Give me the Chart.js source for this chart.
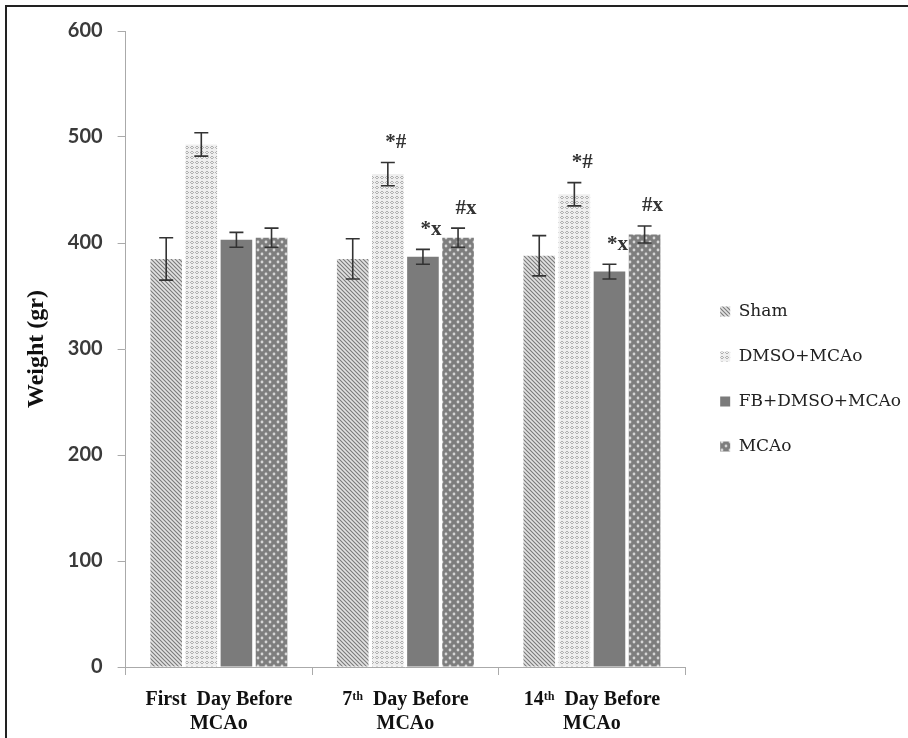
<!DOCTYPE html>
<html>
<head>
<meta charset="utf-8">
<script src="https://cdn.jsdelivr.net/npm/chart.js@4.4.0/dist/chart.umd.min.js"></script>
<style>
  body { margin: 0; background: #fff; }
  #wrap { position: relative; width: 908px; height: 738px; }
  #frame { position: absolute; left: 5px; top: 5px; right: -10px; bottom: -10px;
           border-left: 2px solid #222; border-top: 2px solid #222; pointer-events: none; }
</style>
</head>
<body>
<div id="wrap">
  <canvas id="weightChart" width="908" height="738"></canvas>
  <div id="frame"></div>
</div>
<script>
const days = [["First  Day Before", "MCAo"], ["7ᵗʰ  Day Before", "MCAo"], ["14ᵗʰ  Day Before", "MCAo"]];
const groups = ["Sham", "DMSO+MCAo", "FB+DMSO+MCAo", "MCAo"];

const shamWeight = [385, 385, 388];
const dmsoWeight = [493, 465, 446];
const fbWeight = [403, 387, 373];
const mcaoWeight = [405, 405, 408];

const shamErr = [20, 19, 19];
const dmsoErr = [11, 11, 11];
const fbErr = [7, 7, 7];
const mcaoErr = [9, 9, 8];

// significance marks above the bars
const shamMark = ["", "", ""];
const dmsoMark = ["", "*#", "*#"];
const fbMark = ["", "*x", "*x"];
const mcaoMark = ["", "#x", "#x"];

const yTicks = [0, 100, 200, 300, 400, 500, 600];

function makePattern(size, draw) {
    const c = document.createElement("canvas");
    c.width = size;
    c.height = size;
    const ctx = c.getContext("2d");
    draw(ctx, size);
    return ctx.createPattern(c, "repeat");
}

// diagonal hatch
const shamFill = makePattern(4, function (ctx, s) {
    ctx.fillStyle = "#e2e2e2";
    ctx.fillRect(0, 0, s, s);
    ctx.strokeStyle = "#7a7a7a";
    ctx.lineWidth = 1.1;
    ctx.beginPath();
    ctx.moveTo(-1, -1); ctx.lineTo(s + 1, s + 1);
    ctx.moveTo(-1, s - 1); ctx.lineTo(1, s + 1);
    ctx.moveTo(s - 1, -1); ctx.lineTo(s + 1, 1);
    ctx.stroke();
});

// light dotted
const dmsoFill = makePattern(5, function (ctx, s) {
    ctx.fillStyle = "#efefef";
    ctx.fillRect(0, 0, s, s);
    ctx.fillStyle = "#b0b0b0";
    ctx.fillRect(1, 1, 2, 1);
    ctx.fillRect(1, 3, 2, 1);
    ctx.fillRect(0, 2, 1, 1);
    ctx.fillRect(3, 2, 1, 1);
});

const fbFill = "#7b7b7b";

// dark with white dots
const mcaoFill = makePattern(8, function (ctx, s) {
    ctx.fillStyle = "#7e7e7e";
    ctx.fillRect(0, 0, s, s);
    ctx.fillStyle = "#d6d6d6";
    ctx.beginPath();
    ctx.arc(2, 2, 1.4, 0, Math.PI * 2);
    ctx.arc(6, 6, 1.4, 0, Math.PI * 2);
    ctx.fill();
});

const errors = [shamErr, dmsoErr, fbErr, mcaoErr];
const marks = [shamMark, dmsoMark, fbMark, mcaoMark];

const errorBars = {
    id: "errorBars",
    afterDatasetsDraw(chart) {
        const ctx = chart.ctx;
        const y = chart.scales.y;
        ctx.save();
        chart.data.datasets.forEach(function (ds, i) {
            const meta = chart.getDatasetMeta(i);
            meta.data.forEach(function (bar, j) {
                const v = ds.data[j];
                const e = errors[i][j];
                const top = y.getPixelForValue(v + e);
                const bot = y.getPixelForValue(v - e);
                ctx.strokeStyle = "#333";
                ctx.lineWidth = 1.6;
                ctx.beginPath();
                ctx.moveTo(bar.x, top); ctx.lineTo(bar.x, bot);
                ctx.moveTo(bar.x - 7, top); ctx.lineTo(bar.x + 7, top);
                ctx.moveTo(bar.x - 7, bot); ctx.lineTo(bar.x + 7, bot);
                ctx.stroke();

                const m = marks[i][j];
                if (m) {
                    ctx.fillStyle = "#333";
                    ctx.font = "bold 21px 'Liberation Serif'";
                    ctx.textAlign = "center";
                    ctx.textBaseline = "middle";
                    ctx.fillText(m, bar.x + 8, top - 20);
                }
            });
        });
        ctx.restore();
    }
};

// move legend items a bit further from the plot and slightly up
const legendNudge = {
    id: "legendNudge",
    afterLayout(chart) {
        chart.legend.left += 7;
        chart.legend.right += 7;
        chart.legend.top -= 5;
        chart.legend.bottom -= 5;
    }
};

Chart.defaults.color = "#333";

new Chart("weightChart", {
    type: "bar",
    data: {
        labels: days,
        datasets: [
            { label: groups[0], data: shamWeight, backgroundColor: shamFill },
            { label: groups[1], data: dmsoWeight, backgroundColor: dmsoFill },
            { label: groups[2], data: fbWeight, backgroundColor: fbFill },
            { label: groups[3], data: mcaoWeight, backgroundColor: mcaoFill }
        ]
    },
    options: {
        responsive: false,
        animation: false,
        devicePixelRatio: 1,
        categoryPercentage: 0.753,
        barPercentage: 0.9,
        layout: { padding: { left: 5, top: 31, right: 4, bottom: 1 } },
        plugins: {
            tooltip: { enabled: false },
            legend: {
                position: "right",
                maxWidth: 225,
                labels: {
                    boxWidth: 10,
                    boxHeight: 10,
                    padding: 28,
                    color: "#222",
                    font: { family: "'DejaVu Serif'", size: 17 }
                }
            }
        },
        scales: {
            x: {
                afterFit(scale) {
                    scale.height = 70;
                },
                grid: { offset: true, drawOnChartArea: false, drawTicks: true, tickLength: 8, color: "#aaa" },
                border: { color: "#aaa" },
                ticks: {
                    padding: 13,
                    color: "#111",
                    maxRotation: 0,
                    font: { family: "'Liberation Serif'", size: 20, weight: "bold", lineHeight: 1.2 }
                }
            },
            y: {
                min: 0,
                max: 600,
                afterBuildTicks(axis) {
                    axis.ticks = yTicks.map(v => ({ value: v }));
                },
                grid: { drawOnChartArea: false, drawTicks: true, tickLength: 8, color: "#aaa" },
                border: { color: "#aaa" },
                ticks: {
                    padding: 15,
                    color: "#3a3a3a",
                    font: { family: "Lato", size: 20, weight: "bold" }
                },
                title: {
                    display: true,
                    text: "Weight (gr)",
                    color: "#111",
                    padding: { top: 17, bottom: 2 },
                    font: { family: "'Liberation Serif'", size: 24, weight: "bold", lineHeight: 1.2 }
                }
            }
        }
    },
    plugins: [errorBars, legendNudge]
});
</script>
</body>
</html>
